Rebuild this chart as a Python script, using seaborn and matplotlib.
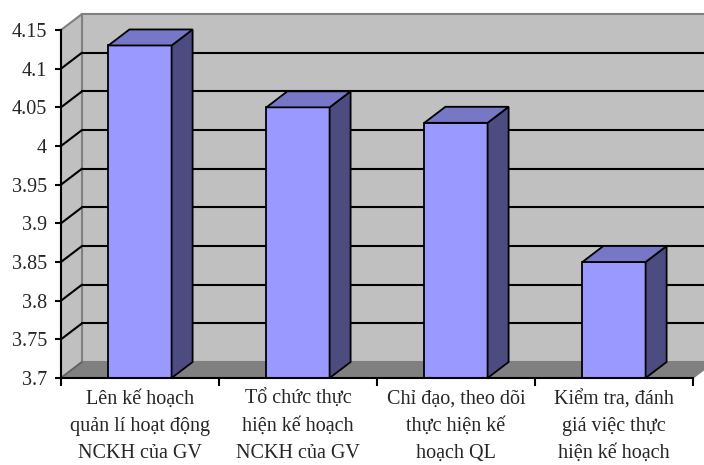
import matplotlib
matplotlib.use("Agg")
import matplotlib.pyplot as plt
import matplotlib.transforms as mtransforms
import seaborn as sns
import pandas as pd
import numpy as np
from matplotlib.patches import Polygon

categories = [
    "Lên kế hoạch\nquản lí hoạt động\nNCKH của GV",
    "Tổ chức thực\nhiện kế hoạch\nNCKH của GV",
    "Chỉ đạo, theo dõi\nthực hiện kế\nhoạch QL",
    "Kiểm tra, đánh\ngiá việc thực\nhiện kế hoạch",
]
values = [4.13, 4.05, 4.03, 3.85]
yticks = [3.7, 3.75, 3.8, 3.85, 3.9, 3.95, 4.0, 4.05, 4.1, 4.15]

sns.set_theme(style="white")
plt.rcParams['font.family'] = ['Liberation Serif', 'DejaVu Serif']

W, H = 704, 465
fig = plt.figure(figsize=(W / 100, H / 100), dpi=100)
left, right, top, bottom = 61, 693, 30, 378
ax = fig.add_axes([left / W, (H - bottom) / H, (right - left) / W, (bottom - top) / H])
ax.patch.set_visible(False)

df = pd.DataFrame({"cat": categories, "val": values})
sns.barplot(data=df, x="cat", y="val", width=0.4, color="#9999FF", saturation=1,
            edgecolor="black", linewidth=1.3, ax=ax, zorder=5)

ymin, ymax = yticks[0], yticks[-1]
xmin, xmax = -0.5, len(categories) - 0.5
ax.set_xlim(xmin, xmax)
ax.set_ylim(ymin, ymax)

# depth offset in data units
dx = 21 / ((right - left) / (xmax - xmin))
dy = 16 / ((bottom - top) / (ymax - ymin))

wall = "#C0C0C0"
floor = "#808080"
border = "#808080"

ax.add_patch(Polygon([(xmin + dx, ymin + dy), (xmax + dx, ymin + dy), (xmax + dx, ymax + dy),
                      (xmin + dx, ymax + dy)], closed=True, facecolor=wall, edgecolor=border,
                     lw=1.5, clip_on=False, zorder=0))
ax.add_patch(Polygon([(xmin, ymin), (xmin + dx, ymin + dy), (xmin + dx, ymax + dy), (xmin, ymax)],
                     closed=True, facecolor=wall, edgecolor=border, lw=1.5, clip_on=False, zorder=0))
ax.add_patch(Polygon([(xmin, ymin), (xmax, ymin), (xmax + dx, ymin + dy), (xmin + dx, ymin + dy)],
                     closed=True, facecolor=floor, edgecolor=floor, lw=1, clip_on=False, zorder=1))

for t in yticks[1:-1]:
    ax.plot([xmin + dx, xmax + dx], [t + dy, t + dy], color="black", lw=1.5, clip_on=False, zorder=2)
    ax.plot([xmin, xmin + dx], [t, t + dy], color="black", lw=1.5, clip_on=False, zorder=2)
ax.plot([xmin, xmin + dx], [ymin, ymin + dy], color="#606060", lw=1.2, clip_on=False, zorder=2)

front_rgb = matplotlib.colors.to_rgb("#9999FF")
for p in list(ax.patches):
    if tuple(np.round(p.get_facecolor()[:3], 3)) != tuple(np.round(front_rgb, 3)):
        continue
    x0 = p.get_x()
    x1 = x0 + p.get_width()
    v = p.get_y() + p.get_height()
    ax.add_patch(Polygon([(x1, ymin), (x1 + dx, ymin + dy), (x1 + dx, v + dy), (x1, v)], closed=True,
                         facecolor="#4C4C80", edgecolor="black", lw=1.3, clip_on=False, zorder=6))
    ax.add_patch(Polygon([(x0, v), (x1, v), (x1 + dx, v + dy), (x0 + dx, v + dy)], closed=True,
                         facecolor="#7777C8", edgecolor="black", lw=1.3, clip_on=False, zorder=6))

for s in ["top", "right"]:
    ax.spines[s].set_visible(False)
for s in ["left", "bottom"]:
    ax.spines[s].set_color("black")
    ax.spines[s].set_linewidth(1.5)
    ax.spines[s].set_zorder(7)

ax.set_yticks(yticks)
ax.set_yticklabels([f"{t:g}" for t in yticks], fontsize=14.5)
ax.set_xticks(np.arange(len(categories) + 1) - 0.5)
ax.set_xticklabels([])
ax.tick_params(axis="y", direction="out", length=4, width=1.5, color="black", pad=6, left=True)
ax.tick_params(axis="x", direction="out", length=6, width=1.5, color="black", bottom=True)
off = mtransforms.ScaledTranslation(0, -12 / 100, fig.dpi_scale_trans)
for i, c in enumerate(categories):
    ax.text(i, ymin, c, transform=ax.transData + off, ha="center", va="top", fontsize=14.5,
            linespacing=1.56, clip_on=False)

ax.set_xlabel("")
ax.set_ylabel("")
fig.savefig("out.png", dpi=100)
